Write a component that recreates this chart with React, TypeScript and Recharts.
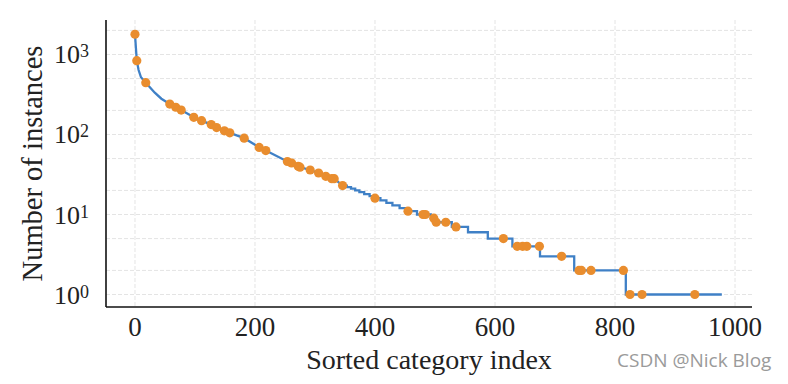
import React from "react";
import {
  ComposedChart,
  Line,
  Scatter,
  XAxis,
  YAxis,
  CartesianGrid,
  Label,
} from "recharts";

// Upper (smooth) part of the sorted-count curve
const curveIdx = [0, 3, 6, 10, 18, 33, 44, 58, 68, 77, 98, 111, 127, 136, 149, 158, 182, 207, 218, 254, 261, 272, 275, 292, 306, 318, 328, 332];
const curveVal = [1790, 836, 640, 519, 444, 333, 280, 240, 219, 202, 164, 149, 133, 122, 111, 105, 90, 69, 63, 46, 44, 40, 39, 36, 33, 30, 28, 28];

// Lower (stepped) part: index where each integer count starts
const stepStart = [346, 353, 360, 367, 374, 382, 391, 398, 409, 419, 429, 441, 452, 470, 493, 500, 528, 555, 588, 629, 675, 732, 818];
const stepVal = [23, 22, 21, 20, 19, 18, 17, 16, 15, 14, 13, 12, 11, 10, 9, 8, 7, 6, 5, 4, 3, 2, 1];
const lastIdx = 978;

// Highlighted categories (orange dots)
const dotIdx = [0, 3, 18, 58, 68, 77, 98, 111, 127, 136, 149, 158, 182, 207, 218, 254, 261, 272, 275, 292, 306, 318, 328, 332, 346, 400, 455, 480, 484, 498, 502, 518, 535, 614, 637, 646, 653, 674, 711, 740, 744, 760, 814, 825, 845, 933];
const dotVal = [1790, 836, 444, 240, 219, 202, 164, 149, 133, 122, 111, 105, 90, 69, 63, 46, 44, 40, 39, 36, 33, 30, 28, 28, 23, 16, 11, 10, 10, 9, 8, 8, 7, 5, 4, 4, 4, 4, 3, 2, 2, 2, 2, 1, 1, 1];

const xTicks = [0, 200, 400, 600, 800, 1000];
const yTicks = [1, 10, 100, 1000];
const yMinor = [0.8, 0.9, 1, 2, 3, 4, 5, 6, 7, 8, 9, 10, 20, 30, 40, 50, 60, 70, 80, 90, 100, 200, 300, 400, 500, 600, 700, 800, 900, 1000, 2000];

const lineData: { x: number; y: number }[] = [];
curveIdx.forEach((x, i) => lineData.push({ x, y: curveVal[i] }));
stepStart.forEach((s, i) => {
  const end = i + 1 < stepStart.length ? stepStart[i + 1] : lastIdx;
  lineData.push({ x: s, y: stepVal[i] });
  lineData.push({ x: end, y: stepVal[i] });
});

const dotData = dotIdx.map((x, i) => ({ x, y: dotVal[i] }));

const SERIF = "'Liberation Serif', 'Times New Roman', serif";
const BLUE = "#3f80c6";
const ORANGE = "#e98d2e";

const XTick = (props: any) => {
  const { x, y, payload } = props;
  return (
    <text x={x} y={y + 29} textAnchor="middle" fontFamily={SERIF} fontSize={27} fill="#222">
      {payload.value}
    </text>
  );
};

const YTick = (props: any) => {
  const { x, y, payload } = props;
  const exp = Math.round(Math.log10(payload.value));
  return (
    <text x={x} y={y + 9} textAnchor="end" fontFamily={SERIF} fontSize={26} fill="#222">
      <tspan>10</tspan>
      <tspan dy={-6} fontSize={18}>{exp}</tspan>
    </text>
  );
};

const Dot = (props: any) => {
  const { cx, cy } = props;
  return <circle cx={cx} cy={cy} r={4.6} fill={ORANGE} />;
};

export default function App() {
  return (
    <div style={{ position: "absolute", left: 0, top: 0, width: 788, height: 384, background: "#fff" }}>
      <ComposedChart width={788} height={384} margin={{ top: 20, right: 36, bottom: 0, left: 0 }}>
        <CartesianGrid
          horizontalValues={yMinor}
          verticalValues={xTicks}
          stroke="#e4e4e4"
          strokeDasharray="4 2"
          strokeWidth={1}
        />
        <XAxis
          dataKey="x"
          type="number"
          domain={[-48.3, 1028.3]}
          ticks={xTicks}
          allowDataOverflow
          height={77}
          tickLine={false}
          tickSize={0}
          tickMargin={0}
          axisLine={{ stroke: "#111", strokeWidth: 1.6 }}
          tick={<XTick />}
        >
          <Label
            content={(p: any) => {
              const vb = p.viewBox;
              return (
                <text x={vb.x + vb.width / 2} y={vb.y + 62} textAnchor="middle" fontFamily={SERIF} fontSize={28} fill="#222">
                  Sorted category index
                </text>
              );
            }}
          />
        </XAxis>
        <YAxis
          dataKey="y"
          type="number"
          scale="log"
          domain={[0.698, 2698]}
          ticks={yTicks}
          allowDataOverflow
          width={106}
          tickLine={false}
          tickSize={0}
          tickMargin={17}
          axisLine={{ stroke: "#111", strokeWidth: 1.6 }}
          tick={<YTick />}
        >
          <Label
            content={(p: any) => {
              const vb = p.viewBox;
              const cx = 42;
              const cy = vb.y + vb.height / 2;
              return (
                <text x={cx} y={cy} transform={`rotate(-90, ${cx}, ${cy})`} textAnchor="middle" fontFamily={SERIF} fontSize={28.5} fill="#222">
                  Number of instances
                </text>
              );
            }}
          />
        </YAxis>
        <Line
          data={lineData}
          dataKey="y"
          type="linear"
          stroke={BLUE}
          strokeWidth={2.3}
          dot={false}
          activeDot={false}
          isAnimationActive={false}
        />
        <Scatter data={dotData} dataKey="y" fill={ORANGE} shape={<Dot />} isAnimationActive={false} />
      </ComposedChart>
      <div
        style={{
          position: "absolute",
          left: 617,
          top: 351,
          fontFamily: "'Open Sans', 'Noto Sans', sans-serif",
          fontSize: 19,
          lineHeight: "19px",
          color: "#9a9a9a",
          whiteSpace: "nowrap",
        }}
      >
        CSDN @Nick Blog
      </div>
    </div>
  );
}
